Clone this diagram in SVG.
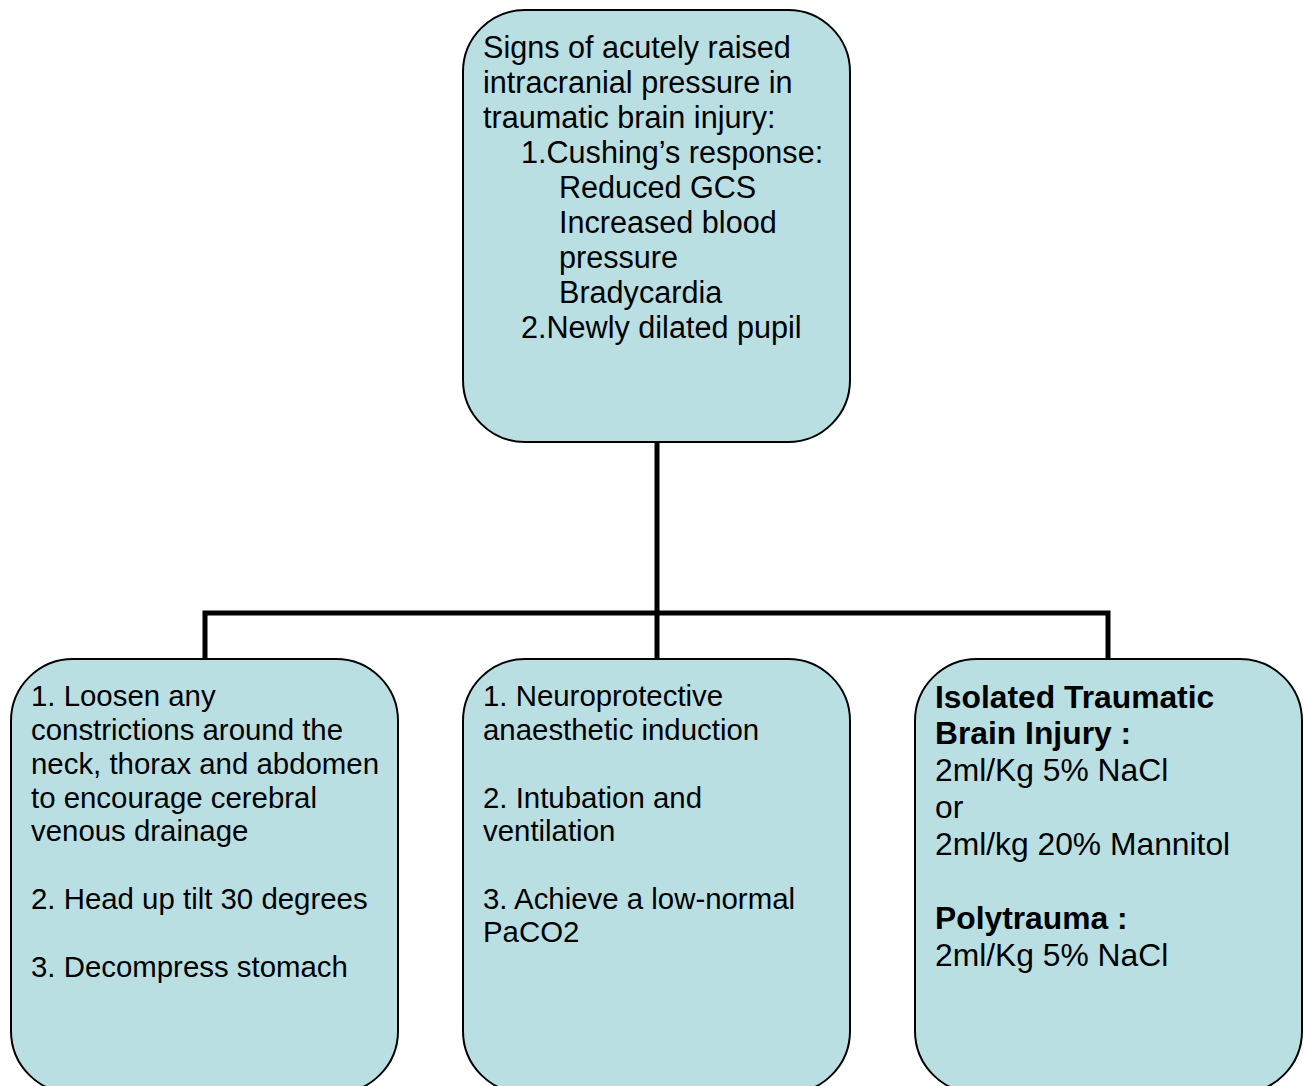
<svg xmlns="http://www.w3.org/2000/svg" width="1304" height="1086" viewBox="0 0 1304 1086">
<style>
.box{fill:#B9DFE3;stroke:#000;stroke-width:2}
.t{font-family:"Liberation Sans",Arial,sans-serif;fill:#000}
.t1{font-size:30.6px}
.t2{font-size:29.4px}
.t3{font-size:31.8px}
.b{font-weight:bold}
.conn{fill:none;stroke:#000;stroke-width:5}
</style>
<rect width="1304" height="1086" fill="#fff"/>
<g id="connectors">
<path class="conn" d="M657,442 V613 M205,659 V613 H1108 V659 M657,613 V659"/>
</g>
<g id="top">
<rect class="box" x="463" y="10" width="387" height="432" rx="62"/>
<text class="t t1" x="483" y="58">Signs of acutely raised</text>
<text class="t t1" x="483" y="93">intracranial pressure in</text>
<text class="t t1" x="483" y="128">traumatic brain injury:</text>
<text class="t t1" x="521" y="163">1.Cushing’s response:</text>
<text class="t t1" x="559" y="198">Reduced GCS</text>
<text class="t t1" x="559" y="233">Increased blood</text>
<text class="t t1" x="559" y="268">pressure</text>
<text class="t t1" x="559" y="303">Bradycardia</text>
<text class="t t1" x="521" y="338">2.Newly dilated pupil</text>
</g>
<g id="left">
<rect class="box" x="11" y="659" width="387" height="434" rx="62"/>
<text class="t t2" x="31" y="706">1. Loosen any</text>
<text class="t t2" x="31" y="740">constrictions around the</text>
<text class="t t2" x="31" y="774">neck, thorax and abdomen</text>
<text class="t t2" x="31" y="808">to encourage cerebral</text>
<text class="t t2" x="31" y="841">venous drainage</text>
<text class="t t2" x="31" y="909">2. Head up tilt 30 degrees</text>
<text class="t t2" x="31" y="977">3. Decompress stomach</text>
</g>
<g id="middle">
<rect class="box" x="463" y="659" width="387" height="434" rx="62"/>
<text class="t t2" x="483" y="706">1. Neuroprotective</text>
<text class="t t2" x="483" y="740">anaesthetic induction</text>
<text class="t t2" x="483" y="808">2. Intubation and</text>
<text class="t t2" x="483" y="841">ventilation</text>
<text class="t t2" x="483" y="909">3. Achieve a low-normal</text>
<text class="t t2" x="483" y="942">PaCO2</text>
</g>
<g id="right">
<rect class="box" x="915" y="659" width="387" height="434" rx="62"/>
<text class="t t3 b" x="935" y="708">Isolated Traumatic</text>
<text class="t t3 b" x="935" y="744">Brain Injury :</text>
<text class="t t3" x="935" y="781">2ml/Kg 5% NaCl</text>
<text class="t t3" x="935" y="818">or</text>
<text class="t t3" x="935" y="855">2ml/kg 20% Mannitol</text>
<text class="t t3 b" x="935" y="929">Polytrauma :</text>
<text class="t t3" x="935" y="966">2ml/Kg 5% NaCl</text>
</g>
</svg>
